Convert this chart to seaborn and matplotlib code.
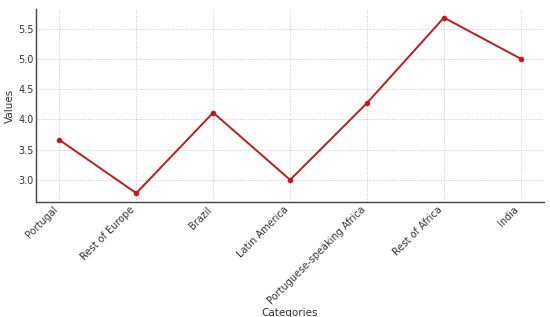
import matplotlib
matplotlib.use("Agg")
import matplotlib.pyplot as plt
import seaborn as sns
import pandas as pd

categories = ["Portugal", "Rest of Europe", "Brazil", "Latin America",
              "Portuguese-speaking Africa", "Rest of Africa", "India"]
values = [3.66, 2.78, 4.11, 3.00, 4.27, 5.68, 5.00]

df = pd.DataFrame({"Categories": categories, "Values": values})

sns.set_style("white")
plt.rcParams["font.family"] = ["DejaVu Sans"]

fig, ax = plt.subplots(figsize=(5.5, 3.17), dpi=100)
sns.lineplot(data=df, x="Categories", y="Values", ax=ax, sort=False,
             color="#c41a1f", lw=1.4, marker="o", markersize=4,
             markeredgewidth=0)

ax.grid(True, linestyle=":", color="#c8c8c8", lw=0.7)
ax.set_axisbelow(True)
for s in ["top", "right"]:
    ax.spines[s].set_visible(False)
for s in ["left", "bottom"]:
    ax.spines[s].set_color("#444444")
    ax.spines[s].set_linewidth(1.0)
ax.tick_params(direction="in", length=3, width=0.8, color="#444444",
               labelsize=7, labelcolor="#333333", pad=2)
ax.set_xticks(range(len(categories)))
ax.set_xticklabels(categories, rotation=45, ha="right")
ax.set_xlabel("Categories", fontsize=7.5, color="#333333", labelpad=1)
ax.set_ylabel("Values", fontsize=7.5, color="#333333", labelpad=2)

fig.subplots_adjust(left=0.066, right=0.989, top=0.972, bottom=0.363)
fig.savefig("out.png", dpi=100)
